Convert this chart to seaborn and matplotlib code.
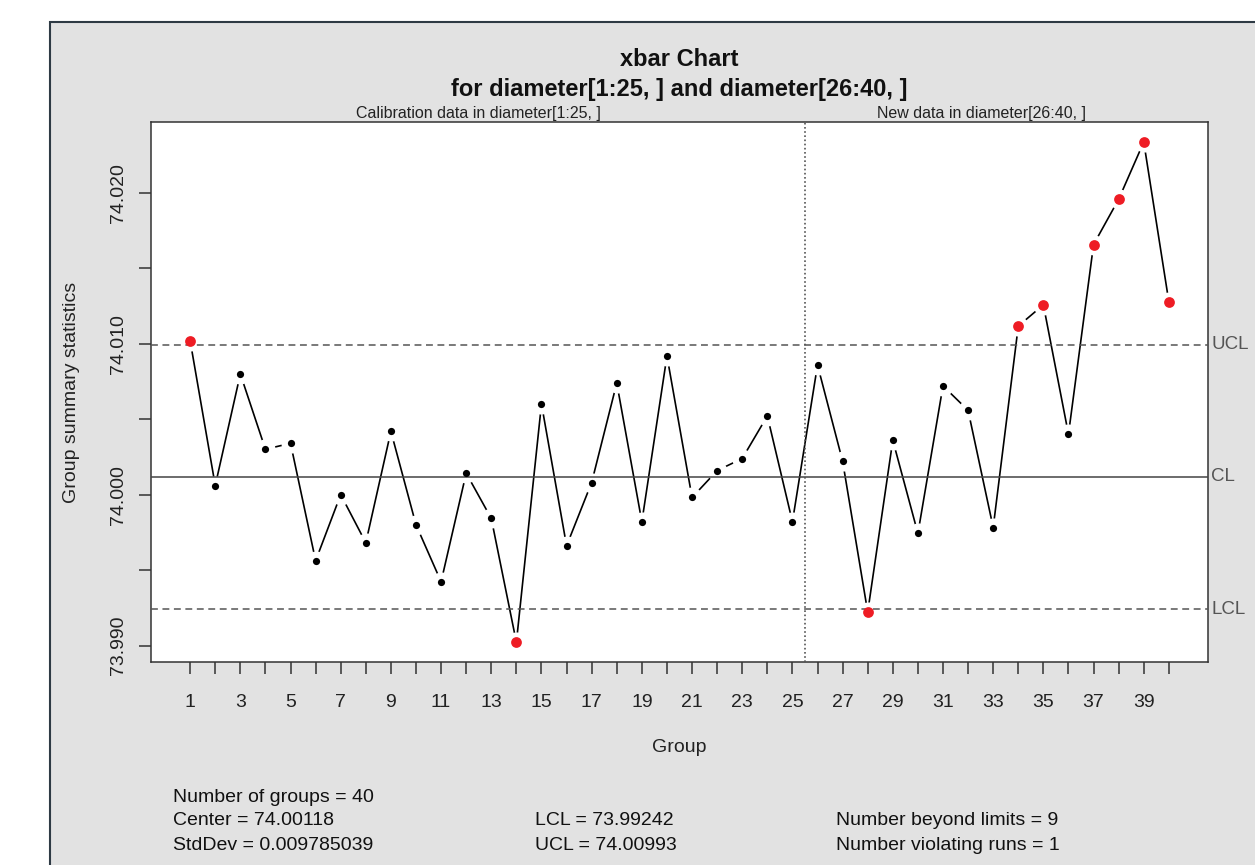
import numpy as np
import pandas as pd
import matplotlib
matplotlib.use("Agg")
import matplotlib.pyplot as plt
import matplotlib.transforms as mtransforms
from matplotlib.patches import Rectangle
import seaborn as sns

sns.set_style("ticks")
plt.rcParams['font.family'] = ['Liberation Sans', 'DejaVu Sans']

# group means
groups = list(range(1, 41))
xbar = [74.01019, 74.00060, 74.00799, 74.00300, 74.00340, 73.99562, 74.00000, 73.99681, 74.00419, 73.99800,
        73.99423, 74.00142, 73.99842, 73.99022, 74.00600, 73.99661, 74.00080, 74.00739, 73.99820, 74.00918,
        73.99981, 74.00159, 74.00239, 74.00521, 73.99820, 74.00858, 74.00221, 73.99222, 74.00360, 73.99743,
        74.00720, 74.00558, 73.99782, 74.01116, 74.01257, 74.00400, 74.01656, 74.01956, 74.02335, 74.01277]
n_calib = 25
center = 74.00118
lcl = 73.99242
ucl = 74.00993
std_dev = 0.009785039
violating_runs = 1

df = pd.DataFrame({'group': groups, 'xbar': xbar})
df['beyond'] = (df['xbar'] > ucl) | (df['xbar'] < lcl)

W, H = 1255, 865
fig = plt.figure(figsize=(W / 100, H / 100), dpi=100)
fig.patch.set_facecolor('white')
# grey panel (cropped R device)
fig.add_artist(Rectangle((50 / W, -0.1), 1.2, 1 - 22 / H + 0.1, transform=fig.transFigure,
                         facecolor='#e2e2e2', edgecolor='#2e3a44', lw=1.5, zorder=-10))

ax_l, ax_r, ax_t, ax_b = 151, 1208, 122, 662.3
ax = fig.add_axes([ax_l / W, 1 - ax_b / H, (ax_r - ax_l) / W, (ax_b - ax_t) / H])
ax.set_facecolor('white')

# R style limits: 4% expansion
lo = min(df['xbar'].min(), lcl)
hi = max(df['xbar'].max(), ucl)
pad = 0.04 * (hi - lo)
ax.set_ylim(lo - pad, hi + pad)
xpad = 0.04 * (len(groups) - 1)
ax.set_xlim(1 - xpad, len(groups) + xpad)

sns.lineplot(data=df, x='group', y='xbar', color='black', lw=1.2, ax=ax, zorder=2)
# white halos give the gaps of R's type = "b"
sns.scatterplot(data=df, x='group', y='xbar', color='white', s=210, linewidth=0, ax=ax, zorder=3)

grey = '#555555'
ax.axhline(ucl, color=grey, lw=1.1, linestyle=(0, (4.5, 3)), zorder=4)
ax.axhline(center, color='#444444', lw=1.1, zorder=4)
ax.axhline(lcl, color=grey, lw=1.1, linestyle=(0, (4.5, 3)), zorder=4)
ax.axvline(n_calib + 0.5, color=grey, lw=1.2, linestyle=(0, (1, 1.5)), zorder=4)

sns.scatterplot(data=df[~df['beyond']], x='group', y='xbar', color='black', s=27, linewidth=0, ax=ax, zorder=5)
sns.scatterplot(data=df[df['beyond']], x='group', y='xbar', color='#ee1c24', s=60, linewidth=0, ax=ax, zorder=5)

# ticks
ax.set_xticks(groups)
ax.set_xticklabels([str(g) if g % 2 else '' for g in groups])
yt = np.round(np.arange(73.990, 74.0201, 0.005), 3)
ax.set_yticks(yt)
ax.set_yticklabels([f'{v:.3f}' if round(v * 1000) % 10 == 0 else '' for v in yt])
ax.tick_params(direction='out', length=8.6, width=1.1, color='#333333', labelsize=14, labelcolor='#222222')
ax.tick_params(axis='x', pad=14)
ax.tick_params(axis='y', pad=9)
for lab in ax.get_yticklabels():
    lab.set_rotation(90)
    lab.set_va('center')
for sp in ax.spines.values():
    sp.set_visible(True)
    sp.set_color('#333333')
    sp.set_linewidth(1.1)

ax.set_xlabel('Group', fontsize=14, color='#222222')
ax.xaxis.set_label_coords(0.5, (ax_b - 748) / (ax_b - ax_t))
ax.xaxis.label.set_va('center')
ax.set_ylabel('Group summary statistics', fontsize=14, color='#222222')
ax.yaxis.set_label_coords((72 - ax_l) / (ax_r - ax_l), 0.5)
ax.yaxis.label.set_va('center')

# control limit labels on the right
trans_y = mtransforms.blended_transform_factory(ax.transAxes, ax.transData)
for val, name in ((ucl, 'UCL'), (center, 'CL'), (lcl, 'LCL')):
    ax.text(1.003, val, name, transform=trans_y, ha='left', va='center', fontsize=13.5, color=grey)

# section labels above the plot
trans_x = mtransforms.blended_transform_factory(ax.transData, ax.transAxes)
ax.text(12.5, 1.002, f'Calibration data in diameter[1:{n_calib}, ]', transform=trans_x,
        ha='center', va='bottom', fontsize=11.5, color='#222222')
ax.text(32.55, 1.002, f'New data in diameter[{n_calib + 1}:{len(groups)}, ]', transform=trans_x,
        ha='center', va='bottom', fontsize=11.5, color='#222222')

# title
cx = (ax_l + ax_r) / 2 / W
fig.text(cx, 1 - 59.3 / H, 'xbar Chart', ha='center', va='center', fontsize=17, fontweight='bold', color='#111111')
fig.text(cx, 1 - 89.3 / H, f'for diameter[1:{n_calib}, ] and diameter[{n_calib + 1}:{len(groups)}, ]',
         ha='center', va='center', fontsize=17, fontweight='bold', color='#111111')

# summary statistics
n_beyond = int(df['beyond'].sum())
stats = [
    (173, 797.3, f'Number of groups = {len(groups)}'),
    (173, 820.7, f'Center = {center:.5f}'),
    (173, 845.0, f'StdDev = {std_dev}'),
    (535.4, 820.7, f'LCL = {lcl:.5f}'),
    (535.4, 845.0, f'UCL = {ucl:.5f}'),
    (836.4, 820.7, f'Number beyond limits = {n_beyond}'),
    (836.4, 845.0, f'Number violating runs = {violating_runs}'),
]
for x, y, s in stats:
    fig.text(x / W, 1 - y / H, s, ha='left', va='center', fontsize=14, color='#111111')

fig.savefig('out.png', dpi=100)
